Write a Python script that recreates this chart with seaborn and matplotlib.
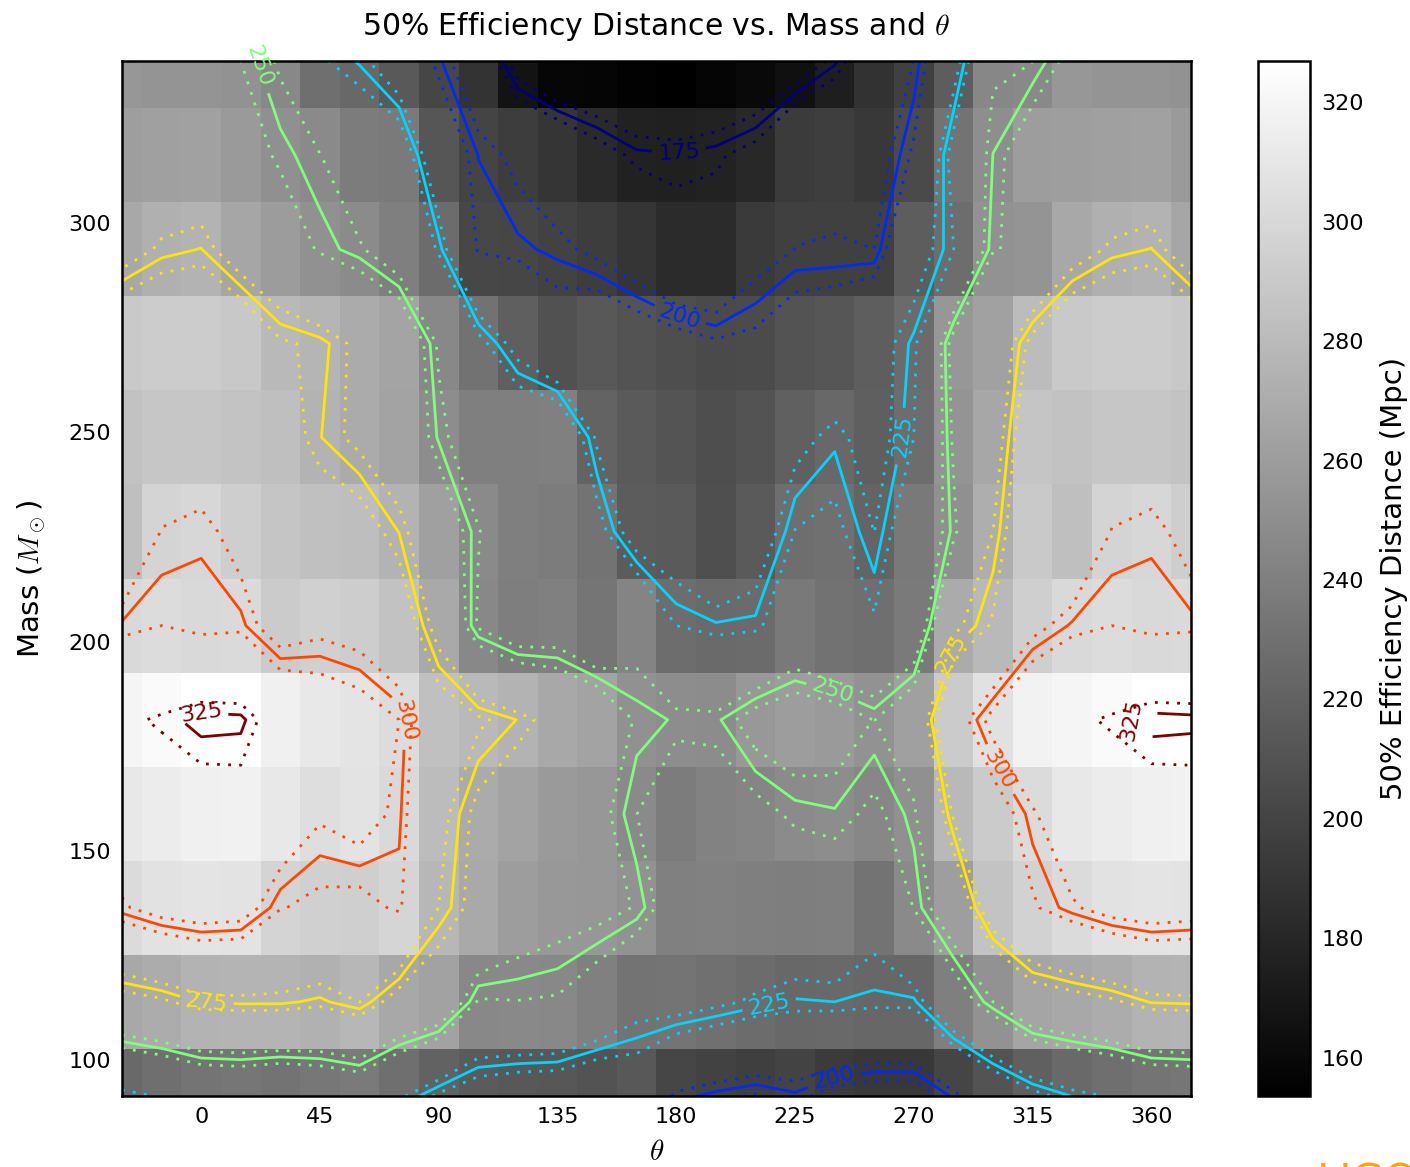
import numpy as np
import matplotlib
matplotlib.use("Agg")
import matplotlib.pyplot as plt
import seaborn as sns

# grid: inclination angle theta (deg) and total mass (solar masses)
theta_deg = [0, 15, 30, 45, 60, 75, 90, 105, 120, 135, 150, 165,
             180, 195, 210, 225, 240, 255, 270, 285, 300, 315, 330, 345]
mass_msun = [91.4, 113.9, 136.4, 158.8, 181.3, 203.8,
             226.3, 248.8, 271.2, 293.7, 316.2, 338.7]

# 50% efficiency distance (Mpc), one list per mass row, theta = 0..345
d_m091 = [232.8, 233.7, 231.6, 234.2, 236.4, 229.4, 220.6, 215.7, 213.6, 213.0, 210.3, 213.7,
          201.5, 198.5, 196.3, 199.0, 193.8, 191.8, 191.8, 200.9, 210.4, 219.1, 225.2, 228.8]
d_m114 = [275.4, 275.9, 275.9, 274.0, 278.1, 267.5, 263.5, 246.2, 246.8, 246.2, 240.3, 232.0,
          232.5, 229.8, 226.8, 224.5, 225.0, 224.0, 224.0, 240.2, 253.0, 265.5, 268.0, 270.7]
d_m136 = [308.6, 307.5, 297.4, 295.0, 294.0, 298.3, 277.9, 268.6, 260.0, 257.0, 256.0, 252.5,
          240.6, 241.0, 240.0, 239.2, 240.0, 231.9, 247.3, 261.0, 286.0, 296.0, 302.0, 306.8]
d_m159 = [316.4, 317.4, 310.8, 304.0, 307.5, 301.0, 281.0, 269.5, 264.0, 258.0, 256.0, 247.1,
          238.0, 242.0, 244.3, 248.3, 249.5, 245.3, 251.5, 279.0, 291.5, 301.9, 311.0, 314.0]
d_m181 = [326.9, 326.3, 316.3, 311.0, 308.0, 303.0, 284.0, 279.3, 274.8, 268.0, 264.0, 251.8,
          249.5, 249.0, 256.9, 260.0, 258.0, 252.8, 262.0, 291.5, 306.0, 317.7, 320.0, 323.2]
d_m204 = [300.5, 301.3, 291.2, 294.7, 292.9, 285.5, 268.1, 246.0, 239.0, 240.6, 232.9, 243.0,
          228.0, 225.6, 226.2, 235.9, 231.3, 229.0, 236.8, 269.8, 279.0, 294.0, 300.8, 303.0]
d_m226 = [299.8, 293.1, 287.0, 284.0, 282.7, 274.8, 262.0, 247.4, 240.0, 238.0, 231.6, 216.3,
          215.0, 207.4, 215.0, 228.2, 230.0, 221.9, 236.0, 251.2, 272.0, 290.0, 283.0, 297.4]
d_m249 = [288.0, 286.0, 283.0, 275.2, 270.0, 264.0, 249.3, 240.0, 239.8, 240.3, 220.7, 215.0,
          211.0, 207.0, 210.0, 219.2, 224.1, 218.0, 228.0, 254.2, 267.0, 287.0, 285.0, 288.0]
d_m271 = [292.0, 289.0, 279.0, 276.6, 269.9, 265.0, 245.8, 231.0, 218.2, 209.0, 213.6, 209.9,
          207.0, 204.0, 205.0, 210.0, 212.0, 217.8, 226.1, 256.4, 263.0, 281.0, 290.0, 292.0]
d_m294 = [275.2, 266.0, 259.7, 252.0, 248.0, 240.1, 227.0, 202.0, 201.0, 198.9, 195.0, 190.0,
          182.9, 182.8, 193.2, 197.1, 197.2, 197.0, 216.7, 227.8, 252.7, 254.3, 267.4, 273.3]
d_m316 = [262.7, 258.0, 251.6, 247.3, 238.0, 236.3, 212.3, 199.9, 195.0, 190.0, 182.4, 176.2,
          175.5, 176.9, 181.1, 193.7, 196.0, 192.0, 204.3, 231.9, 250.1, 259.9, 261.0, 262.0]
d_m339 = [254.0, 253.0, 245.9, 229.0, 224.4, 214.0, 201.0, 188.5, 166.6, 158.2, 157.0, 155.0,
          153.6, 157.0, 160.0, 165.0, 174.0, 188.0, 197.1, 217.0, 245.6, 246.9, 256.0, 254.0]

levels = [175, 200, 225, 250, 275, 300, 325]
band = 3.0   # spread of the dotted contours (Mpc)

# where the inline contour labels sit (theta, mass)
label_spots = [(181, 317), (181, 277), (240, 95), (266, 249), (215, 114),
               (20, 337), (240, 190), (284, 197), (2, 114), (77, 181),
               (299, 168), (0, 183), (352, 182)]


sns.set_style("ticks", {"xtick.direction": "in", "ytick.direction": "in",
                        "axes.edgecolor": "black", "text.color": "black",
                        "axes.labelcolor": "black", "xtick.color": "black",
                        "ytick.color": "black"})
plt.rcParams["font.family"] = ["DejaVu Sans"]
plt.rcParams["mathtext.fontset"] = "cm"

dist = np.array([d_m091, d_m114, d_m136, d_m159, d_m181, d_m204,
                 d_m226, d_m249, d_m271, d_m294, d_m316, d_m339])
theta = np.array(theta_deg, dtype=float)
mass = np.array(mass_msun)

# wrap the periodic angle so the map runs from -30 to 375 deg
theta_ext = np.concatenate([theta[-2:] - 360, theta, theta[:2] + 360])
dist_ext = np.concatenate([dist[:, -2:], dist, dist[:, :2]], axis=1)

fig = plt.figure(figsize=(14.1, 11.67), dpi=100)
ax = fig.add_axes([0.0865, 0.0608, 0.7582, 0.8869])
cax = fig.add_axes([0.8922, 0.0608, 0.0369, 0.8869])

mesh = ax.pcolormesh(theta_ext, mass, dist_ext, cmap="gray", shading="nearest",
                     edgecolors="none", antialiased=False)

line_colors = [plt.cm.jet(i / (len(levels) - 1)) for i in range(len(levels))]
lv = np.array(levels, dtype=float)
cs = ax.contour(theta_ext, mass, dist_ext, levels=lv, colors=line_colors,
                linewidths=2.0)
for off in (-band, band):
    ax.contour(theta_ext, mass, dist_ext, levels=lv + off, colors=line_colors,
               linewidths=2.0, linestyles=[(0, (1, 3))])
labels = ax.clabel(cs, fmt="%d", fontsize=16, inline=True, manual=label_spots)
for t in labels:
    t.set_clip_on(False)

ax.set_xlim(-30, 375)
ax.set_ylim(mass[0], mass[-1])
ax.set_xticks(range(0, 361, 45))
ax.set_yticks(range(100, 301, 50))
ax.tick_params(direction="in", top=True, right=True, length=8, width=1,
               labelsize=16, pad=8, colors="black")
for sp in ax.spines.values():
    sp.set_linewidth(1.8)
    sp.set_edgecolor("black")

ax.set_title("50% Efficiency Distance vs. Mass and $\\theta$", fontsize=21.5, pad=19)
ax.set_xlabel("$\\theta$", fontsize=21, labelpad=8)
ax.set_ylabel("Mass ($M_\\odot$)", fontsize=21, labelpad=14)

cb = fig.colorbar(mesh, cax=cax)
cb.set_ticks(range(160, 321, 20))
cb.ax.tick_params(direction="in", length=8, width=1, labelsize=16, pad=8,
                  colors="black")
cb.outline.set_linewidth(1.8)
cb.outline.set_edgecolor("black")
cb.set_label("50% Efficiency Distance (Mpc)", fontsize=21, labelpad=12)

fig.text(0.934, 0.0043, "LIGO", color="orange", fontsize=30, va="top", ha="left")

fig.savefig("out.png", dpi=100)
